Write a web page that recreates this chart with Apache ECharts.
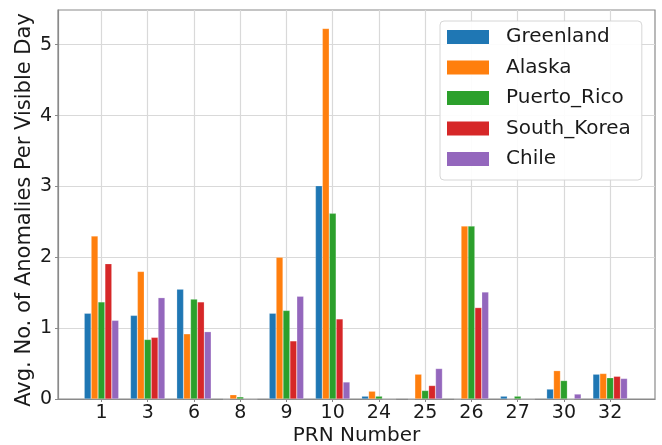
<!DOCTYPE html>
<html>
<head>
<meta charset="utf-8">
<script src="https://cdn.jsdelivr.net/npm/echarts@6/dist/echarts.min.js"></script>
<style>
  html, body { margin: 0; padding: 0; background: #ffffff; }
  #chart { width: 662px; height: 445px; }
</style>
</head>
<body>
<div id="chart"></div>
<script>
// PRN satellites on the x axis
const prnLabels = ['1', '3', '6', '8', '9', '10', '24', '25', '26', '27', '30', '32'];

// Average anomalies per visible day, one array per site
const greenland  = [1.21, 1.18, 1.55, 0.00, 1.21, 3.01, 0.04, 0.00, 0.00, 0.04, 0.14, 0.35];
const alaska     = [2.30, 1.80, 0.92, 0.06, 2.00, 5.23, 0.11, 0.35, 2.44, 0.00, 0.40, 0.36];
const puertoRico = [1.37, 0.84, 1.41, 0.03, 1.25, 2.62, 0.04, 0.12, 2.44, 0.04, 0.26, 0.30];
const southKorea = [1.91, 0.87, 1.37, 0.00, 0.82, 1.13, 0.00, 0.19, 1.29, 0.00, 0.00, 0.32];
const chile      = [1.11, 1.43, 0.95, 0.00, 1.45, 0.24, 0.00, 0.43, 1.51, 0.00, 0.07, 0.29];

const siteNames  = ['Greenland', 'Alaska', 'Puerto_Rico', 'South_Korea', 'Chile'];
const siteValues = [greenland, alaska, puertoRico, southKorea, chile];
const siteColors = ['#1f77b4', '#ff7f0e', '#2ca02c', '#d62728', '#9467bd'];

const yTicks = [0, 1, 2, 3, 4, 5];

const FONT = 'DejaVu Sans';
const gridLineColor = '#d9d9d9';
const frameColor = '#8a8a8a';

const xIndices = prnLabels.map((_, i) => i);

const chart = echarts.init(document.getElementById('chart'), null, { renderer: 'canvas' });

const series = siteNames.map((name, k) => ({
  name: name,
  type: 'bar',
  barWidth: 6.9,
  barGap: '0%',
  data: siteValues[k].map((v, i) => [i, v]),
  itemStyle: {
    color: siteColors[k],
    borderColor: 'rgba(255,255,255,0.45)',
    borderWidth: 0.5
  },
  emphasis: { disabled: true },
  animation: false
}));

chart.setOption({
  animation: false,
  backgroundColor: '#ffffff',
  textStyle: { fontFamily: FONT },
  grid: {
    left: 58, right: 7, top: 10, bottom: 46,
    outerBoundsMode: 'none',
    containLabel: false,
    show: true,
    borderColor: frameColor,
    borderWidth: 1.2,
    backgroundColor: 'transparent'
  },
  legend: {
    orient: 'vertical',
    left: 440, top: 21,
    padding: [6, 11, 11, 7],
    itemWidth: 42,
    itemHeight: 14,
    itemGap: 10.5,
    backgroundColor: 'rgba(255,255,255,0.9)',
    borderColor: '#d6d6d6',
    borderWidth: 1,
    borderRadius: 4,
    itemStyle: { borderWidth: 0 },
    textStyle: {
      fontFamily: FONT, fontSize: 20, color: '#1a1a1a',
      lineHeight: 20, padding: [0, 0, 0, 12]
    },
    data: siteNames.map(n => ({ name: n, icon: 'rect' }))
  },
  xAxis: {
    type: 'value',
    min: -0.94,
    max: 11.97,
    name: 'PRN Number',
    nameLocation: 'middle',
    nameGap: 27,
    nameMoveOverlap: false,
    nameTextStyle: { fontFamily: FONT, fontSize: 20, color: '#1a1a1a' },
    axisLine: { show: true, onZero: false, lineStyle: { color: frameColor, width: 1.2 } },
    axisTick: { show: true, length: 3, customValues: xIndices, lineStyle: { color: frameColor } },
    axisLabel: {
      customValues: xIndices,
      formatter: v => prnLabels[Math.round(v)],
      fontFamily: FONT, fontSize: 19, color: '#1a1a1a', margin: 5
    },
    splitLine: { show: true, lineStyle: { color: gridLineColor, width: 1.2 } }
  },
  yAxis: {
    type: 'value',
    min: 0,
    max: 5.49,
    name: 'Avg. No. of Anomalies Per Visible Day',
    nameLocation: 'middle',
    nameGap: 23,
    nameMoveOverlap: false,
    nameTextStyle: {
      fontFamily: FONT, fontSize: 21, color: '#1a1a1a',
      padding: [0, 11, 0, 0]
    },
    axisLine: { show: true, onZero: false, lineStyle: { color: frameColor, width: 1.2 } },
    axisTick: { show: true, length: 3, customValues: yTicks, lineStyle: { color: frameColor } },
    axisLabel: {
      customValues: yTicks,
      fontFamily: FONT, fontSize: 19, color: '#1a1a1a', margin: 6
    },
    splitLine: { show: true, lineStyle: { color: gridLineColor, width: 1.2 } }
  },
  series: series
});
</script>
</body>
</html>
